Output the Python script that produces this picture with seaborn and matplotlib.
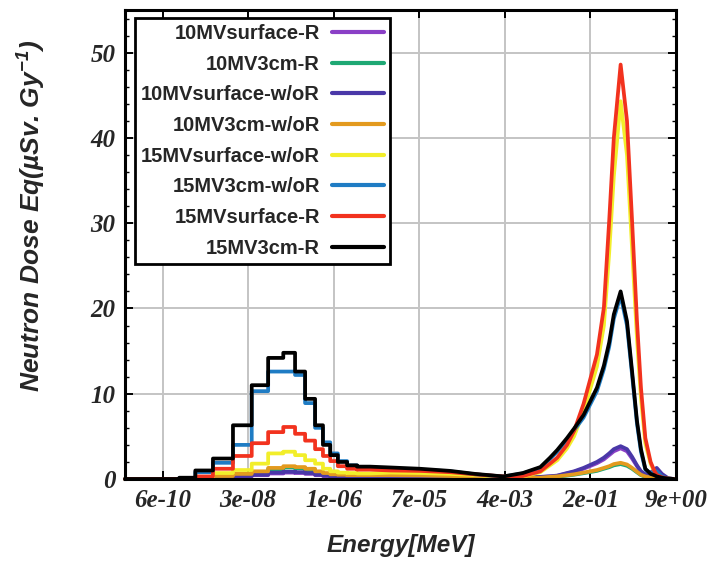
import matplotlib
matplotlib.use("Agg")
import matplotlib.pyplot as plt
import numpy as np
import pandas as pd
import seaborn as sns
from matplotlib.ticker import FixedLocator, AutoMinorLocator, LogLocator, NullFormatter

sns.set_style("ticks")
plt.rcParams["font.family"] = ["Liberation Sans", "DejaVu Sans"]
plt.rcParams["mathtext.fontset"] = "custom"
plt.rcParams["mathtext.rm"] = "Liberation Sans:bold:italic"
plt.rcParams["mathtext.it"] = "Liberation Sans:bold:italic"

series_names = ["10MVsurface-R", "10MV3cm-R", "10MVsurface-w/oR", "10MV3cm-w/oR",
                "15MVsurface-w/oR", "15MV3cm-w/oR", "15MVsurface-R", "15MV3cm-R"]
series_colors = ["#8a3fc6", "#1ea874", "#4a38a8", "#e39a1e",
                 "#f2ee2a", "#1f7cc4", "#f2321e", "#000000"]

x_tick_values = [5.6e-10, 2.8e-08, 1.4e-06, 7.1e-05, 3.5e-03, 1.78e-01, 8.9]
x_tick_labels = ["6e-10", "3e-08", "1e-06", "7e-05", "4e-03", "2e-01", "9e+00"]
y_tick_values = [0, 10, 20, 30, 40, 50]

# thermal region: step histogram bin edges (MeV)
thermal_edges = [1e-10, 1.2e-9, 2.5e-9, 5.6e-9, 1.4e-8, 3.3e-8, 7.0e-8, 1.4e-7, 2.4e-7,
                 3.8e-7, 6.0e-7, 8.6e-7, 1.2e-6, 1.7e-6, 2.6e-6, 4.1e-6, 7.4e-6]
# epithermal / fast region energies (MeV)
fast_energy = [1.9e-5, 7.3e-5, 2.9e-4, 9.0e-4, 3.3e-3, 8.1e-3, 1.8e-2, 2.8e-2, 3.9e-2,
               6.1e-2, 8.4e-2, 0.13, 0.24, 0.33, 0.42, 0.52, 0.71, 0.95, 1.2, 1.5,
               1.8, 2.2, 2.8, 3.3, 3.7, 4.7, 6.2, 8.1]

th_10MVsurface_R = [0.0, 0.0, 0.05, 0.15, 0.3, 0.45, 0.65, 0.75, 0.7, 0.6, 0.45, 0.35, 0.28, 0.22, 0.18, 0.18]
th_10MV3cm_R = [0.0, 0.0, 0.1, 0.3, 0.55, 0.8, 1.15, 1.35, 1.25, 1.05, 0.8, 0.6, 0.5, 0.45, 0.4, 0.4]
th_10MVsurface_woR = [0.0, 0.0, 0.05, 0.2, 0.35, 0.5, 0.75, 0.85, 0.8, 0.7, 0.5, 0.4, 0.3, 0.25, 0.2, 0.2]
th_10MV3cm_woR = [0.0, 0.0, 0.1, 0.35, 0.6, 0.9, 1.3, 1.5, 1.4, 1.2, 0.9, 0.7, 0.55, 0.5, 0.45, 0.45]
th_15MVsurface_woR = [0.0, 0.0, 0.2, 0.7, 1.05, 1.8, 3.0, 3.2, 2.8, 2.2, 1.8, 1.2, 0.9, 0.75, 0.7, 0.65]
th_15MV3cm_woR = [0.0, 0.1, 0.8, 1.9, 4.0, 10.3, 12.6, 12.6, 12.2, 8.9, 6.0, 4.3, 3.0, 2.1, 1.6, 1.35]
th_15MVsurface_R = [0.0, 0.05, 0.3, 1.2, 2.7, 4.2, 5.5, 6.1, 5.3, 4.5, 3.5, 2.7, 2.1, 1.5, 1.2, 1.1]
th_15MV3cm_R = [0.0, 0.15, 1.0, 2.4, 6.3, 11.0, 14.2, 14.8, 12.6, 9.4, 6.3, 4.0, 2.8, 2.0, 1.6, 1.45]

fa_10MVsurface_R = [0.18, 0.18, 0.14, 0.1, 0.08, 0.12, 0.22, 0.3, 0.37, 0.65, 0.85, 1.2, 1.85, 2.3, 2.8, 3.25, 3.6, 3.25, 2.4, 1.5, 0.85, 0.45, 0.3, 0.2, 0.15, 0.05, 0.0, 0.0]
fa_10MV3cm_R = [0.4, 0.38, 0.3, 0.22, 0.13, 0.1, 0.13, 0.22, 0.27, 0.4, 0.5, 0.68, 0.95, 1.2, 1.38, 1.6, 1.75, 1.55, 1.2, 0.78, 0.45, 0.25, 0.12, 0.1, 0.12, 0.05, 0.0, 0.0]
fa_10MVsurface_woR = [0.2, 0.2, 0.15, 0.12, 0.1, 0.15, 0.25, 0.32, 0.4, 0.7, 0.9, 1.3, 2.0, 2.5, 3.0, 3.5, 3.85, 3.5, 2.6, 1.6, 0.9, 0.55, 0.75, 1.1, 1.3, 0.6, 0.1, 0.0]
fa_10MV3cm_woR = [0.45, 0.42, 0.35, 0.25, 0.15, 0.12, 0.15, 0.25, 0.3, 0.45, 0.55, 0.75, 1.05, 1.3, 1.5, 1.75, 1.9, 1.7, 1.3, 0.85, 0.5, 0.3, 0.15, 0.1, 0.1, 0.05, 0.0, 0.0]
fa_15MVsurface_woR = [0.75, 0.7, 0.6, 0.45, 0.25, 0.3, 0.8, 1.6, 2.2, 3.6, 5.0, 7.9, 13.2, 18.0, 26.5, 35.5, 44.3, 38.0, 27.0, 16.5, 9.5, 4.2, 1.8, 0.9, 0.45, 0.2, 0.05, 0.0]
fa_15MV3cm_woR = [1.25, 1.1, 0.9, 0.55, 0.28, 0.65, 1.3, 2.35, 3.2, 4.6, 5.7, 7.2, 10.3, 12.9, 15.5, 18.8, 21.5, 18.0, 12.2, 6.5, 3.2, 1.1, 0.7, 0.8, 0.9, 0.3, 0.05, 0.0]
fa_15MVsurface_R = [1.0, 0.95, 0.8, 0.55, 0.3, 0.35, 0.9, 1.8, 2.5, 4.0, 5.6, 8.8, 14.6, 20.1, 30.2, 40.0, 48.6, 42.0, 30.2, 18.5, 10.7, 4.8, 2.0, 1.0, 0.5, 0.2, 0.05, 0.0]
fa_15MV3cm_R = [1.35, 1.2, 0.95, 0.6, 0.3, 0.7, 1.4, 2.5, 3.4, 4.8, 5.9, 7.5, 10.7, 13.3, 16.0, 19.3, 22.0, 18.5, 12.6, 6.8, 3.5, 1.2, 0.6, 0.45, 0.3, 0.15, 0.05, 0.0]

thermal = [th_10MVsurface_R, th_10MV3cm_R, th_10MVsurface_woR, th_10MV3cm_woR,
           th_15MVsurface_woR, th_15MV3cm_woR, th_15MVsurface_R, th_15MV3cm_R]
fast = [fa_10MVsurface_R, fa_10MV3cm_R, fa_10MVsurface_woR, fa_10MV3cm_woR,
        fa_15MVsurface_woR, fa_15MV3cm_woR, fa_15MVsurface_R, fa_15MV3cm_R]

rows = []
for name, th, fa in zip(series_names, thermal, fast):
    order = 0
    for i, v in enumerate(th):
        for e in (thermal_edges[i], thermal_edges[i + 1]):
            rows.append((name, order, e, v))
            order += 1
    for e, v in zip(fast_energy, fa):
        rows.append((name, order, e, v))
        order += 1
df = pd.DataFrame(rows, columns=["series", "order", "energy", "dose"])

fig = plt.figure(figsize=(7.11, 5.69), dpi=100)
ax = fig.add_axes([125 / 711, 1 - 479 / 569, 551 / 711, 469 / 569])

sns.lineplot(data=df, x="energy", y="dose", hue="series", hue_order=series_names,
             palette=dict(zip(series_names, series_colors)), sort=False,
             estimator=None, linewidth=2.7, ax=ax)
for ln in ax.get_lines():
    ln.set_clip_on(False)

ax.set_xscale("log")
ax.set_xlim(1e-10, 8.95)
ax.set_ylim(0, 55)

ax.grid(True, which="major", color="#c4c4c4", linewidth=1.4)
ax.set_axisbelow(True)

ax.xaxis.set_major_locator(FixedLocator(x_tick_values))
ax.set_xticklabels(x_tick_labels)
ax.xaxis.set_minor_locator(LogLocator(base=10, subs=np.arange(2, 10)))
ax.xaxis.set_minor_formatter(NullFormatter())
ax.set_yticks(y_tick_values)
ax.yaxis.set_minor_locator(AutoMinorLocator(5))

tick_font = dict(family="Liberation Serif", weight="bold", style="italic", size=18)
for lab in ax.get_xticklabels() + ax.get_yticklabels():
    lab.set_fontproperties(matplotlib.font_manager.FontProperties(**tick_font))

ax.tick_params(which="both", direction="in", top=True, right=True, color="black")
ax.tick_params(which="major", length=6, width=1.4, pad=7)
ax.tick_params(which="minor", length=3, width=1.0)
ax.tick_params(axis="x", which="minor", bottom=False)

for sp in ax.spines.values():
    sp.set_linewidth(2.2)
    sp.set_color("black")

ax.set_xlabel("Energy[MeV]", fontsize=17.5, fontweight="bold", fontstyle="italic")
ax.set_ylabel("Neutron Dose Eq(\u00b5Sv. Gy$^{-1}$)", fontsize=19,
              fontweight="bold", fontstyle="italic")
ax.xaxis.set_label_coords(0.5, -0.118)
ax.yaxis.set_label_coords(-0.14, 0.56)

handles, labels = ax.get_legend_handles_labels()
leg = ax.legend(handles, labels, loc="upper left", bbox_to_anchor=(0.018, 0.983),
                borderaxespad=0, markerfirst=False, frameon=True, fancybox=False,
                framealpha=1, edgecolor="black",
                prop=dict(family="Liberation Sans", weight="bold", size=14.5),
                labelspacing=0.58, handlelength=2.6, handletextpad=0.6,
                borderpad=0.3)
leg.get_frame().set_linewidth(2.0)
for line in leg.get_lines():
    line.set_linewidth(3.0)

fig.savefig("out.png", dpi=100)
